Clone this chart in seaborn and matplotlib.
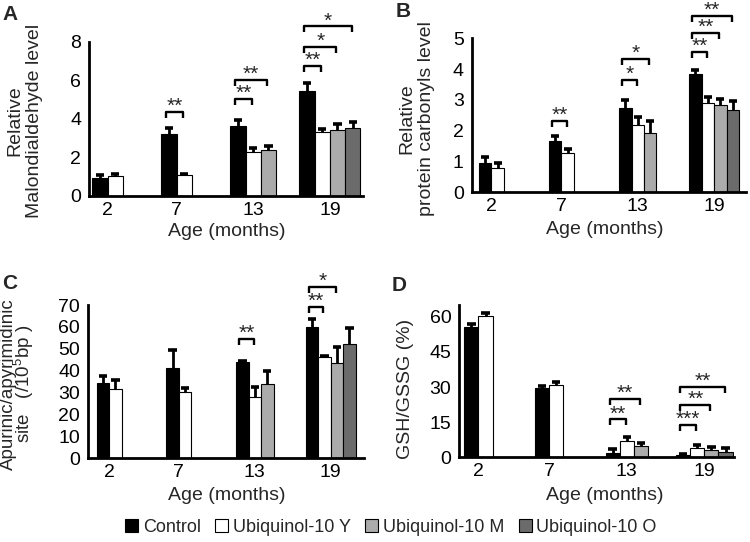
import numpy as np
import pandas as pd
import matplotlib
matplotlib.use("Agg")
import matplotlib.pyplot as plt
from matplotlib.patches import Patch
import seaborn as sns

NA = np.nan

ages = ["2", "7", "13", "19"]
groups = ["Control", "Ubiquinol-10 Y", "Ubiquinol-10 M", "Ubiquinol-10 O"]
group_colors = ["#000000", "#ffffff", "#ababab", "#6b6b6b"]

# Panel A: relative malondialdehyde level
mda_control = [0.95, 3.20, 3.65, 5.42]
mda_young = [1.04, 1.07, 2.30, 3.32]
mda_middle = [NA, NA, 2.39, 3.44]
mda_old = [NA, NA, NA, 3.55]
mda_control_err = [0.14, 0.30, 0.30, 0.46]
mda_young_err = [0.12, 0.07, 0.17, 0.16]
mda_middle_err = [NA, NA, 0.19, 0.30]
mda_old_err = [NA, NA, NA, 0.31]
mda_sig = [("7", 1, 4.36, "**"), ("13", 1, 5.02, "**"), ("13", 2, 6.02, "**"),
           ("19", 1, 6.75, "**"), ("19", 2, 7.75, "*"), ("19", 3, 8.79, "*")]

# Panel B: relative protein carbonyls level
pc_control = [0.95, 1.66, 2.74, 3.84]
pc_young = [0.80, 1.28, 2.18, 2.89]
pc_middle = [NA, NA, 1.93, 2.85]
pc_old = [NA, NA, NA, 2.68]
pc_control_err = [0.20, 0.17, 0.26, 0.14]
pc_young_err = [0.14, 0.11, 0.26, 0.22]
pc_middle_err = [NA, NA, 0.38, 0.17]
pc_old_err = [NA, NA, NA, 0.30]
pc_sig = [("7", 1, 2.31, "**"), ("13", 1, 3.66, "*"), ("13", 2, 4.32, "*"),
          ("19", 1, 4.57, "**"), ("19", 2, 5.18, "**"), ("19", 3, 5.74, "**")]

# Panel C: apurinic/apyrimidinic sites
ap_control = [34.5, 41.4, 43.8, 60.1]
ap_young = [31.5, 30.1, 27.9, 46.1]
ap_middle = [NA, NA, 33.9, 43.4]
ap_old = [NA, NA, NA, 52.4]
ap_control_err = [3.2, 8.0, 0.6, 3.4]
ap_young_err = [4.3, 2.1, 4.7, 0.6]
ap_middle_err = [NA, NA, 5.9, 7.6]
ap_old_err = [NA, NA, NA, 7.0]
ap_sig = [("13", 1, 54.5, "**"), ("19", 1, 69.3, "**"), ("19", 2, 78.2, "*")]

# Panel D: GSH/GSSG (%)
gsh_control = [55.5, 29.6, 1.7, 0.8]
gsh_young = [60.5, 30.7, 7.1, 3.8]
gsh_middle = [NA, NA, 5.0, 3.0]
gsh_old = [NA, NA, NA, 2.4]
gsh_control_err = [1.5, 1.0, 1.7, 0.5]
gsh_young_err = [1.2, 1.5, 1.7, 1.3]
gsh_middle_err = [NA, NA, 1.1, 1.4]
gsh_old_err = [NA, NA, NA, 1.4]
gsh_sig = [("13", 1, 16.2, "**"), ("13", 2, 24.8, "**"), ("19", 1, 13.8, "***"),
           ("19", 2, 22.2, "**"), ("19", 3, 29.9, "**")]

sns.set_style("white")
plt.rcParams["font.family"] = ["Liberation Sans", "DejaVu Sans"]
plt.rcParams["mathtext.fontset"] = "custom"
plt.rcParams["mathtext.rm"] = "Liberation Sans"
plt.rcParams["mathtext.it"] = "Liberation Sans:italic"
plt.rcParams["mathtext.bf"] = "Liberation Sans:bold"

W, H = 750, 542
fig = plt.figure(figsize=(W / 100, H / 100), dpi=100)


def px_rect(left, top, right, bottom):
    return [left / W, 1 - bottom / H, (right - left) / W, (bottom - top) / H]


def draw_panel(rect, vals, errs, sig, width, ylim, yticks, xlim,
               letter, letter_xy, ylabel, ylabel_xy, xlabel_xy,
               ylabel_ls=1.2, ylabel_fs=14):
    ax = fig.add_axes(rect)
    rows = []
    for g, v_list, e_list in zip(groups, vals, errs):
        for a, v, e in zip(ages, v_list, e_list):
            if not np.isnan(v):
                rows.append({"age": a, "group": g, "value": v, "err": e})
    df = pd.DataFrame(rows)
    sns.barplot(data=df, x="age", y="value", hue="group", order=ages,
                hue_order=groups, palette=group_colors, width=width, gap=0,
                dodge=True, errorbar=None, edgecolor="black", linewidth=0.8,
                saturation=1, legend=False, ax=ax, zorder=2)
    ax.set_ylim(*ylim)
    ax.set_xlim(*xlim)

    # pixel -> data conversions
    fig.canvas.draw()
    y_ppu = ax.transData.transform((0, 1))[1] - ax.transData.transform((0, 0))[1]
    x_ppu = ax.transData.transform((1, 0))[0] - ax.transData.transform((0, 0))[0]

    centers = {}
    for k, cont in enumerate(ax.containers):
        for bar in cont:
            xc = bar.get_x() + bar.get_width() / 2
            ai = int(round(xc))
            h = bar.get_height()
            centers[(ai, k)] = (xc, bar.get_width())
            e = errs[k][ai]
            ax.vlines(xc, h, h + e, color="black", lw=2.0, zorder=3)
            cw = 4.2 / x_ppu
            ax.hlines(h + e, xc - cw, xc + cw, color="black", lw=2.6, zorder=3)

    # tick positions at the centre of the drawn bars of each age
    tpos = []
    for ai in range(len(ages)):
        cs = [centers[key][0] for key in centers if key[0] == ai]
        tpos.append(np.mean(cs))
    ax.set_xticks(tpos)
    ax.set_xticklabels(ages)
    ax.set_yticks(yticks)
    ax.set_yticklabels([str(t) for t in yticks])

    leg = 6.0 / y_ppu
    for age, tk, ytop, stars in sig:
        ai = ages.index(age)
        x1 = centers[(ai, 0)][0] - 3.0 / x_ppu
        x2 = centers[(ai, tk)][0] - 1.0 / x_ppu
        ax.plot([x1, x1, x2, x2], [ytop - leg, ytop, ytop, ytop - leg],
                color="black", lw=1.7, clip_on=False, zorder=4,
                solid_joinstyle="round", solid_capstyle="butt")
        ax.annotate(stars, xy=((x1 + x2) / 2, ytop), xytext=(0, 0),
                    textcoords="offset pixels", ha="center", va="baseline",
                    fontsize=15, annotation_clip=False)

    for s in ["top", "right"]:
        ax.spines[s].set_visible(False)
    for s in ["left", "bottom"]:
        ax.spines[s].set_color("black")
        ax.spines[s].set_linewidth(2.0)
    ax.tick_params(axis="y", direction="in", length=3, width=1.8,
                   labelsize=14, pad=5.5, colors="black")
    ax.tick_params(axis="x", length=0, labelsize=14, pad=4, colors="black")

    ax.set_xlabel("Age (months)", fontsize=14, va="center", ha="center")
    ax.xaxis.set_label_coords(xlabel_xy[0] / W, 1 - xlabel_xy[1] / H,
                              transform=fig.transFigure)
    ax.set_ylabel(ylabel, fontsize=ylabel_fs, va="center", ha="center",
                  multialignment="center", linespacing=ylabel_ls)
    ax.yaxis.set_label_coords(ylabel_xy[0] / W, 1 - ylabel_xy[1] / H,
                              transform=fig.transFigure)
    fig.text(letter_xy[0] / W, 1 - letter_xy[1] / H, letter, fontsize=15,
             fontweight="bold", ha="left", va="top")
    return ax


draw_panel(px_rect(89, 41.7, 363, 196),
           [mda_control, mda_young, mda_middle, mda_old],
           [mda_control_err, mda_young_err, mda_middle_err, mda_old_err],
           mda_sig, 0.884, (0, 8), [0, 2, 4, 6, 8], (-0.49, 3.48),
           "A", (2, 5), "Relative\nMalondialdehyde level", (25, 121), (227, 231))

draw_panel(px_rect(471.5, 38.3, 746, 192.3),
           [pc_control, pc_young, pc_middle, pc_old],
           [pc_control_err, pc_young_err, pc_middle_err, pc_old_err],
           pc_sig, 0.714, (0, 5), [0, 1, 2, 3, 4, 5], (-0.464, 3.457),
           "B", (396, 2), "Relative\nprotein carbonyls level", (417, 119), (605, 230))

draw_panel(px_rect(87.7, 305, 364, 458.3),
           [ap_control, ap_young, ap_middle, ap_old],
           [ap_control_err, ap_young_err, ap_middle_err, ap_old_err],
           ap_sig, 0.717, (0, 70), [0, 10, 20, 30, 40, 50, 60, 70], (-0.488, 3.478),
           "C", (2, 274), "Apurinic/apyrimidinic\nsite   (/10$^{5}$bp )", (18, 384), (227, 496),
           ylabel_ls=0.75, ylabel_fs=13.5)

draw_panel(px_rect(459, 305, 734, 457.3),
           [gsh_control, gsh_young, gsh_middle, gsh_old],
           [gsh_control_err, gsh_young_err, gsh_middle_err, gsh_old_err],
           gsh_sig, 0.80, (0, 65), [0, 15, 30, 45, 60], (-0.476, 3.42),
           "D", (392, 276), "GSH/GSSG (%)", (405, 389), (605, 496))

handles = [Patch(facecolor=c, edgecolor="black", linewidth=0.8) for c in group_colors]
fig.legend(handles, groups, loc="center", bbox_to_anchor=(391 / W, 1 - 527 / H),
           ncol=4, frameon=False, fontsize=13, handlelength=0.72, handleheight=0.72,
           handletextpad=0.25, columnspacing=0.8, borderpad=0, borderaxespad=0)

fig.savefig("out.png", dpi=100)
